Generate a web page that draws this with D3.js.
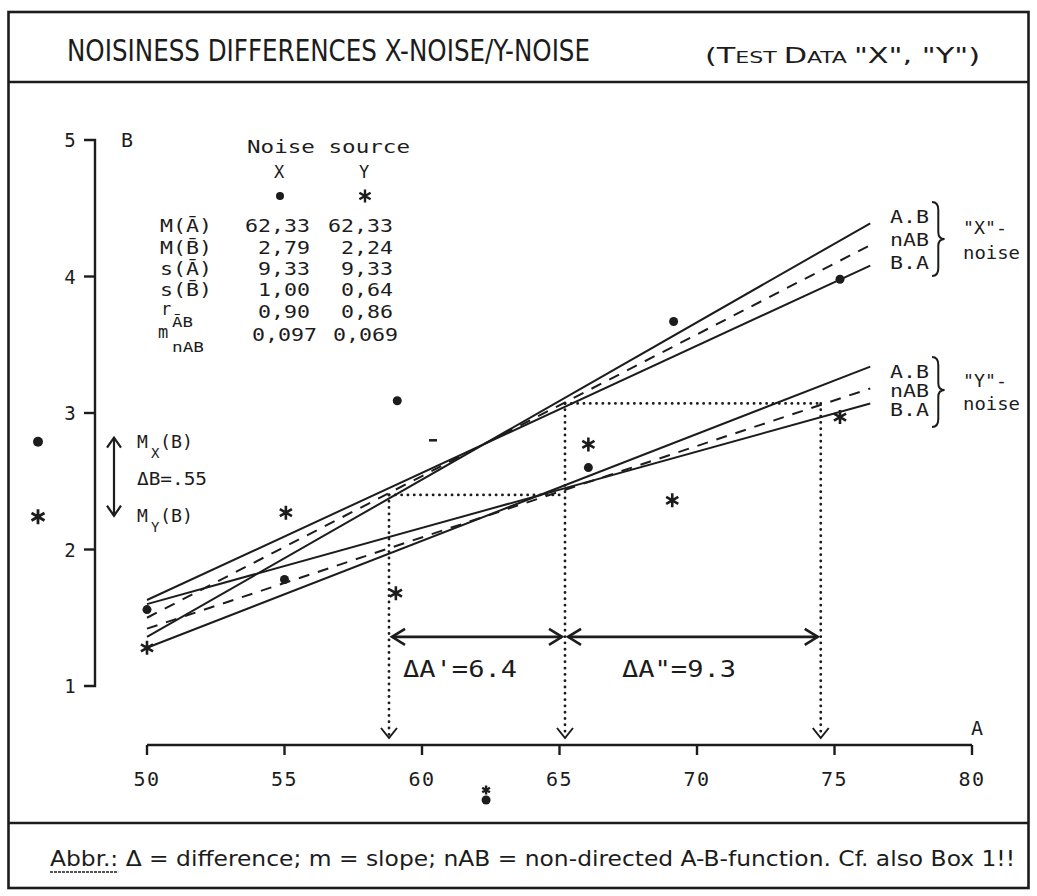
<!DOCTYPE html>
<html><head><meta charset="utf-8">
<script src="https://cdn.jsdelivr.net/npm/d3@7"></script>
<style>body{margin:0;background:#fff}svg{display:block}</style>
</head><body>
<script>
// ---------- data ----------
const xTicks = [50, 55, 60, 65, 70, 75, 80];
const yTicks = [1, 2, 3, 4, 5];
const noiseXPoints = [[50, 1.56], [55, 1.78], [59.1, 3.09], [66.05, 2.60], [69.15, 3.67], [75.2, 3.98]];
const noiseYPoints = [[50, 1.28], [55.05, 2.27], [59.05, 1.68], [66.05, 2.77], [69.1, 2.36], [75.2, 2.97]];
const lineTypes = ["A.B", "nAB", "B.A"];
const lineRangeA = [50, 76.3];
const noiseXLineStart = [1.36, 1.50, 1.63];
const noiseXLineEnd = [4.39, 4.23, 4.08];
const noiseYLineStart = [1.28, 1.42, 1.60];
const noiseYLineEnd = [3.34, 3.18, 3.07];
const tableRows = ["M(A\u0304)", "M(B\u0304)", "s(A\u0304)", "s(B\u0304)", "r", "m"];
const tableSubs = ["", "", "", "", "A\u0304B", "nAB"];
const tableX = ["62,33", "2,79", "9,33", "1,00", "0,90", "0,097"];
const tableY = ["62,33", "2,24", "9,33", "0,64", "0,86", "0,069"];
const meanA = 62.33, meanBX = 2.79, meanBY = 2.24;
const equalBLevels = [2.40, 3.07];
const markA = [58.8, 65.2, 74.5];
const deltaLabels = ["\u0394A'=6.4", "\u0394A\"=9.3"];
const strayMarks = [[60.4, 2.80]];

// ---------- setup ----------
const W = 1037, H = 896, ink = "#1c1c1c";
const mono = "'DejaVu Sans Mono', 'Liberation Mono', monospace";
const narrow = "'Liberation Sans Narrow', 'DejaVu Sans Condensed', 'Arial Narrow', sans-serif";
const svg = d3.select("body").append("svg").attr("width", W).attr("height", H);
svg.append("rect").attr("width", W).attr("height", H).attr("fill", "#fff");

const x = d3.scaleLinear().domain([50, 80]).range([147, 972]);
const y = d3.scaleLinear().domain([1, 5]).range([686, 140]);
const axisY = 745, axisX = 95;

function txt(px, py, s, o = {}) {
  const t = svg.append("text").attr("x", px).attr("y", py).text(s)
    .attr("font-family", o.font || mono).attr("font-size", o.size || 18)
    .attr("fill", ink).attr("text-anchor", o.anchor || "start");
  if (o.len) t.attr("textLength", o.len).attr("lengthAdjust", "spacingAndGlyphs");
  if (o.ls) t.attr("letter-spacing", o.ls);
  return t;
}
function star(g, cx, cy, r, sw) {
  const p = d3.path();
  for (let k = 0; k < 3; k++) {
    const a = Math.PI / 2 + k * Math.PI / 3;
    p.moveTo(cx + r * Math.cos(a), cy - r * Math.sin(a));
    p.lineTo(cx - r * Math.cos(a), cy + r * Math.sin(a));
  }
  g.append("path").attr("d", p.toString()).attr("stroke", ink).attr("stroke-width", sw || 2.6).attr("fill", "none");
}
function dot(g, cx, cy, r) {
  g.append("circle").attr("cx", cx).attr("cy", cy).attr("r", r || 4.5).attr("fill", ink);
}
function brace(x0, y1, y2, ym) {
  const w = 9;
  const p = `M${x0},${y1} Q${x0 + w * 0.7},${y1} ${x0 + w * 0.7},${y1 + 8} L${x0 + w * 0.7},${ym - 7} Q${x0 + w * 0.7},${ym} ${x0 + w * 1.4},${ym} Q${x0 + w * 0.7},${ym} ${x0 + w * 0.7},${ym + 7} L${x0 + w * 0.7},${y2 - 8} Q${x0 + w * 0.7},${y2} ${x0},${y2}`;
  svg.append("path").attr("d", p).attr("fill", "none").attr("stroke", ink).attr("stroke-width", 2);
}
function openHead(px, py, dir, len, half) {
  const c = Math.cos(dir), s = Math.sin(dir);
  const bx = px - len * c, by = py - len * s;
  return `M${bx - half * s},${by + half * c} L${px},${py} L${bx + half * s},${by - half * c}`;
}

// ---------- frame ----------
const frame = svg.append("g").attr("stroke", ink).attr("fill", "none").attr("stroke-width", 2.6);
frame.append("rect").attr("x", 8.5).attr("y", 12).attr("width", 1020).attr("height", 876);
frame.append("line").attr("x1", 8.5).attr("x2", 1028.5).attr("y1", 82).attr("y2", 82);
frame.append("line").attr("x1", 8.5).attr("x2", 1028.5).attr("y1", 823).attr("y2", 823);

// ---------- title ----------
txt(67, 61, "NOISINESS DIFFERENCES X-NOISE/Y-NOISE", { font: narrow, size: 31, len: 523 });
const sub = svg.append("text").attr("x", 705).attr("y", 63).attr("font-family", narrow)
  .attr("fill", ink).attr("textLength", 275).attr("lengthAdjust", "spacingAndGlyphs");
[["(", 22], ["T", 22], ["EST ", 16], ["D", 22], ["ATA ", 16], ["\"X\", \"Y\")", 22]].forEach(([s, f]) =>
  sub.append("tspan").attr("font-size", f).text(s));

// ---------- footer ----------
const foot = txt(50, 866, "Abbr.: \u0394 = difference; m = slope; nAB = non-directed A-B-function. Cf. also Box 1!!",
  { font: narrow, size: 21, len: 965 });
let uEnd = 100;
try { uEnd = foot.node().getEndPositionOfChar(5).x; } catch (e) {}
svg.append("line").attr("x1", 50).attr("x2", uEnd).attr("y1", 872).attr("y2", 872)
  .attr("stroke", ink).attr("stroke-width", 1.5).attr("stroke-dasharray", "3,1");

// ---------- y axis ----------
const ax = svg.append("g").attr("stroke", ink).attr("fill", "none").attr("stroke-width", 2.4);
ax.append("path").attr("d", `M${axisX - 11},${y(5)} H${axisX} V${y(1)} H${axisX - 11}`);
yTicks.filter(v => v > 1 && v < 5).forEach(v =>
  ax.append("line").attr("x1", axisX - 11).attr("x2", axisX).attr("y1", y(v)).attr("y2", y(v)));
yTicks.forEach(v => txt(70, y(v) + 7, String(v), { size: 19, anchor: "middle" }));
txt(127, 147, "B", { size: 20, anchor: "middle" });

// ---------- x axis ----------
ax.append("line").attr("x1", x(50)).attr("x2", x(80)).attr("y1", axisY).attr("y2", axisY);
xTicks.forEach(v =>
  ax.append("line").attr("x1", x(v)).attr("x2", x(v)).attr("y1", axisY).attr("y2", axisY + 10));
xTicks.forEach(v => txt(x(v), axisY + 41, String(v), { size: 20, anchor: "middle", ls: 1.5 }));
txt(977, 735, "A", { size: 20, anchor: "middle" });

// ---------- regression lines ----------
const lineGen = d3.line().x(d => x(d[0])).y(d => y(d[1]));
const lg = svg.append("g").attr("fill", "none").attr("stroke", ink).attr("stroke-width", 2);
function drawSet(starts, ends) {
  lineTypes.forEach((t, i) => {
    lg.append("path").attr("d", lineGen([[lineRangeA[0], starts[i]], [lineRangeA[1], ends[i]]]))
      .attr("stroke-dasharray", t === "nAB" ? "11,9" : null);
  });
}
drawSet(noiseXLineStart, noiseXLineEnd);
drawSet(noiseYLineStart, noiseYLineEnd);

// ---------- dotted construction lines ----------
const dg = svg.append("g").attr("fill", "none").attr("stroke", ink).attr("stroke-width", 2.8)
  .attr("stroke-linecap", "round").attr("stroke-dasharray", "0.1,6.2");
dg.append("line").attr("x1", x(markA[0])).attr("x2", x(markA[1])).attr("y1", y(equalBLevels[0])).attr("y2", y(equalBLevels[0]));
dg.append("line").attr("x1", x(markA[1])).attr("x2", x(markA[2])).attr("y1", y(equalBLevels[1])).attr("y2", y(equalBLevels[1]));
const vStart = [equalBLevels[0], equalBLevels[1], equalBLevels[1]];
markA.forEach((a, i) => {
  dg.append("line").attr("x1", x(a)).attr("x2", x(a)).attr("y1", y(vStart[i])).attr("y2", axisY - 9);
  svg.append("path").attr("d", openHead(x(a), axisY - 7, Math.PI / 2, 10, 8))
    .attr("fill", "none").attr("stroke", ink).attr("stroke-width", 2);
});

// ---------- ΔA arrows ----------
const arrowB = 1.36;
const ag = svg.append("g").attr("fill", "none").attr("stroke", ink).attr("stroke-width", 2.6);
[[markA[0], markA[1]], [markA[1], markA[2]]].forEach(([a0, a1]) => {
  const x0 = x(a0) + 3, x1 = x(a1) - 3, yy = y(arrowB);
  ag.append("line").attr("x1", x0).attr("x2", x1).attr("y1", yy).attr("y2", yy);
  ag.append("path").attr("d", openHead(x0, yy, Math.PI, 13, 8));
  ag.append("path").attr("d", openHead(x1, yy, 0, 13, 8));
});
txt(403, 677, deltaLabels[0], { size: 23, len: 114 });
txt(622, 677, deltaLabels[1], { size: 23, len: 114 });

// ---------- data points ----------
const pg = svg.append("g");
noiseXPoints.forEach(d => dot(pg, x(d[0]), y(d[1]), 4.5));
noiseYPoints.forEach(d => star(pg, x(d[0]), y(d[1]), 7, 2.6));
strayMarks.forEach(d => pg.append("line").attr("x1", x(d[0]) - 4).attr("x2", x(d[0]) + 4)
  .attr("y1", y(d[1])).attr("y2", y(d[1])).attr("stroke", ink).attr("stroke-width", 2.5));

// ---------- mean markers ----------
dot(pg, 38, y(meanBX), 5);
star(pg, 38, y(meanBY), 7.5, 2.8);
star(pg, x(meanA), 790, 4.5, 2.4);
dot(pg, x(meanA), 800, 4.5);

// ΔB arrow
const by0 = y(meanBX) - 4, by1 = y(meanBY) - 1;
ag.append("line").attr("x1", 114).attr("x2", 114).attr("y1", by0).attr("y2", by1).attr("stroke-width", 2.2);
ag.append("path").attr("d", openHead(114, by0, -Math.PI / 2, 10, 7)).attr("stroke-width", 2.2);
ag.append("path").attr("d", openHead(114, by1, Math.PI / 2, 10, 7)).attr("stroke-width", 2.2);
txt(137, 448, "M", { size: 18 });
txt(151, 458, "X", { size: 14 });
txt(160, 448, "(B)", { size: 18, len: 33 });
txt(137, 485, "\u0394B=.55", { size: 18, len: 70 });
txt(137, 522, "M", { size: 18 });
txt(151, 532, "Y", { size: 14 });
txt(160, 522, "(B)", { size: 18, len: 33 });

// ---------- statistics table ----------
txt(247, 153, "Noise source", { size: 18, len: 163 });
txt(279, 178, "X", { size: 17, anchor: "middle" });
txt(364, 178, "Y", { size: 17, anchor: "middle" });
dot(pg, 280, 196, 4);
star(pg, 365, 196, 6.5, 2.4);
const rowC = [225, 247, 268, 289, 311, 334];
tableRows.forEach((r, i) => {
  if (tableSubs[i]) {
    const isR = i === 4;
    const base = isR ? 315 : 338;
    txt(isR ? 161 : 158, base, r, { size: 17 });
    txt(172, base + (isR ? 12 : 14), tableSubs[i], { size: 14, len: isR ? 21 : 32 });
  } else {
    txt(160, rowC[i] + 7, r, { size: 18, len: 52 });
  }
  const last = i === tableRows.length - 1;
  const n1 = tableX[i].length, n2 = tableY[i].length;
  txt(last ? 317 : 310, rowC[i] + 7, tableX[i], { size: 18, anchor: "end", len: n1 * 13 });
  txt(last ? 398 : 393, rowC[i] + 7, tableY[i], { size: 18, anchor: "end", len: n2 * 13 });
});

// ---------- right-hand line labels ----------
const xLab = [216, 239, 262], yLab = [371, 390, 409];
lineTypes.forEach((t, i) => {
  txt(890, xLab[i] + 7, t, { size: 18, len: 39 });
  txt(890, yLab[i] + 7, t, { size: 18, len: 39 });
});
brace(932, 202, 276, 239);
brace(932, 357, 427, 390);
txt(963, 234, "\"X\"-", { size: 18, len: 44 });
txt(963, 259, "noise", { size: 18, len: 57 });
txt(963, 387, "\"Y\"-", { size: 18, len: 44 });
txt(963, 410, "noise", { size: 18, len: 57 });
</script>
</body></html>
